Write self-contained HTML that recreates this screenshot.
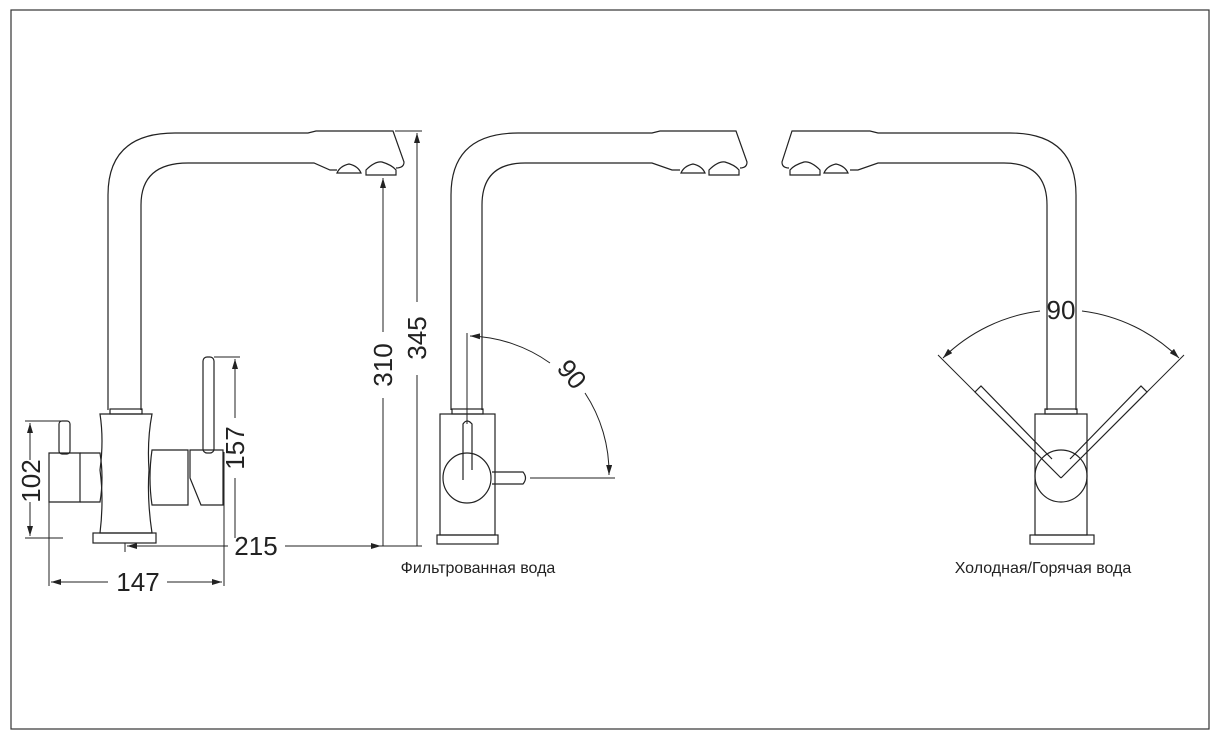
<!DOCTYPE html>
<html><head><meta charset="utf-8"><style>
html,body{margin:0;padding:0;background:#fff;}
svg{display:block;}
text{font-family:"Liberation Sans",sans-serif;fill:#222;}
</style></head><body>
<svg width="1220" height="740" viewBox="0 0 1220 740" xmlns="http://www.w3.org/2000/svg">
<defs>
<marker id="a" viewBox="0 0 10 6" refX="10" refY="3" markerWidth="10" markerHeight="6" orient="auto-start-reverse" markerUnits="userSpaceOnUse"><path d="M0,0 L10,3 L0,6 Z" fill="#222"/></marker>
</defs>
<rect x="11" y="10" width="1198" height="719" fill="none" stroke="#333" stroke-width="1.2"/>
<g fill="none" stroke="#222" stroke-width="1.2">
<!-- LEFT FAUCET -->
<path d="M108,410 L108,195 Q108,133 175,133 L308,133 L316,131 L393,131 L404,162 Q404,168 396,168"/>
<path d="M141,410 L141,205 Q141,163 188,163 L314,163 L330,170 L337,170"/>
<path d="M337,173 Q340,166 349,164 Q358,166 361,173 Z"/>
<path d="M366,175 L366,170 Q375,161 382,162 Q392,165 396,170 L396,175 Z"/>
<rect x="110" y="409" width="32" height="5"/>
<path d="M100,414 L152,414 Q147,440 149,470 Q147,500 152,533 L100,533 Q104,500 100,470 Q104,440 100,414 Z"/>
<rect x="93" y="533" width="63" height="10"/>
<path d="M49,453 L80,453 L80,502 L49,502 Z"/>
<path d="M80,453 L100,453 Q104,478 100,502 L80,502"/>
<rect x="59" y="421" width="11" height="33" rx="3"/>
<path d="M152,450 L188,450 L188,505 L152,505 Q148,478 152,450 Z"/>
<path d="M190,450 L223,450 L223,505 L201,505 L190,478 Z"/>
<rect x="203" y="357" width="11" height="96" rx="4"/>
<!-- MIDDLE FAUCET -->
<path d="M451,410 L451,195 Q451,133 518,133 L652,133 L660,131 L736,131 L747,162 Q747,168 740,168"/>
<path d="M482,410 L482,205 Q482,163 525,163 L652,163 L672,170 L680,170"/>
<path d="M681,173 Q684,166 693,164 Q702,166 705,173 Z"/>
<path d="M709,175 L709,170 Q718,161 725,162 Q735,165 739,170 L739,175 Z"/>
<rect x="452" y="409" width="31" height="5"/>
<rect x="440" y="414" width="55" height="121"/>
<rect x="437" y="535" width="61" height="9"/>
<ellipse cx="467" cy="478" rx="24" ry="25"/>
<path d="M463,480 L463,424 Q467,418 472,424 L472,470"/>
<path d="M492,472 L523,472 Q528,478 523,484 L492,484"/>
<!-- RIGHT FAUCET -->
<path d="M1076,410 L1076,195 Q1076,133 1010,133 L878,133 L870,131 L792,131 L782,162 Q782,168 789,168"/>
<path d="M1047,410 L1047,205 Q1047,163 1004,163 L878,163 L858,170 L850,170"/>
<path d="M848,173 Q845,166 836,164 Q827,166 824,173 Z"/>
<path d="M820,175 L820,170 Q811,161 804,162 Q794,165 790,170 L790,175 Z"/>
<rect x="1045" y="409" width="32" height="5"/>
<rect x="1035" y="414" width="52" height="121"/>
<rect x="1030" y="535" width="64" height="9"/>
<ellipse cx="1061" cy="476" rx="26" ry="26"/>
<path d="M1061,478 L975,392 L981,386 L1052,459"/>
<path d="M1061,478 L1147,392 L1141,386 L1070,459"/>
</g>
<!-- DIMENSIONS -->
<g fill="none" stroke="#222" stroke-width="1">
<path d="M25,421 L65,421 M25,538 L63,538"/>
<path d="M30,423 L30,460 M30,502 L30,536" marker-start="url(#a)" marker-end="url(#a)"/>
<path d="M49,502 L49,586 M224,452 L224,586"/>
<path d="M51,582 L108,582 M167,582 L222,582" marker-start="url(#a)" marker-end="url(#a)"/>
<path d="M214,357 L240,357"/>
<path d="M235,359 L235,418 M235,478 L235,538" marker-start="url(#a)"/>
<path d="M127,546 L228,546" marker-start="url(#a)"/>
<path d="M285,546 L381,546" marker-end="url(#a)"/>
<path d="M125,543 L125,552"/>
<path d="M383,178 L383,332 M383,398 L383,546" marker-start="url(#a)"/>
<path d="M395,131 L422,131"/>
<path d="M417,133 L417,302 M417,375 L417,546" marker-start="url(#a)"/>
<path d="M380,546 L422,546"/>
<!-- middle angle -->
<path d="M467,333 L467,424"/>
<path d="M470,336 A145,145 0 0,1 550,363" marker-start="url(#a)"/>
<path d="M585,393 A145,145 0 0,1 609,475" marker-end="url(#a)"/>
<path d="M530,478 L615,478"/>
<!-- right angle -->
<path d="M975,392 L938,355 M1147,392 L1184,355"/>
<path d="M943,358 A168,168 0 0,1 1040,311" marker-start="url(#a)"/>
<path d="M1082,311 A168,168 0 0,1 1179,358" marker-end="url(#a)"/>
</g>
<g font-size="26">
<text x="0" y="0" transform="translate(40,481) rotate(-90)" text-anchor="middle">102</text>
<text x="138" y="591" text-anchor="middle">147</text>
<text x="0" y="0" transform="translate(244,448) rotate(-90)" text-anchor="middle">157</text>
<text x="256" y="555" text-anchor="middle">215</text>
<text x="0" y="0" transform="translate(392,365) rotate(-90)" text-anchor="middle">310</text>
<text x="0" y="0" transform="translate(426,338) rotate(-90)" text-anchor="middle">345</text>
<text x="0" y="0" transform="translate(565,380) rotate(50)" text-anchor="middle">90</text>
<text x="1061" y="319" text-anchor="middle">90</text>
</g>
<g font-size="16">
<text x="478" y="573" text-anchor="middle">Фильтрованная вода</text>
<text x="1043" y="573" text-anchor="middle">Холодная/Горячая вода</text>
</g>
</svg>
</body></html>
